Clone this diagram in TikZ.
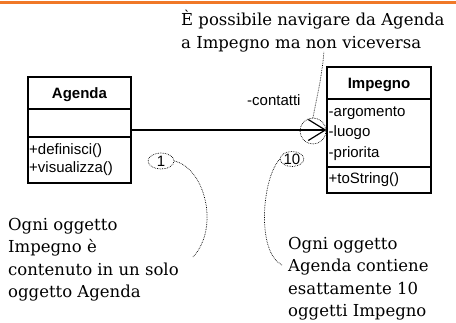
\documentclass[tikz,border=0pt]{standalone}
\usepackage{fontspec}
\newfontfamily\umlfont{Liberation Sans}
\newfontfamily\notefont{DejaVu Serif}
\usetikzlibrary{arrows.meta,shapes.geometric}
\definecolor{topor}{RGB}{240,120,40}
\begin{document}
\begin{tikzpicture}[x=1pt,y=-1pt,
  box/.style={draw, line width=1.2pt, inner sep=0, minimum width=103pt},
  umltext/.style={font=\umlfont\fontsize{15}{18}\selectfont, inner sep=0},
  umlbold/.style={font=\umlfont\bfseries\fontsize{15}{18}\selectfont, inner sep=0},
  note/.style={font=\notefont\fontsize{16.5}{22.5}\selectfont, align=left, inner sep=0, anchor=north west},
  dots/.style={densely dotted, line width=0.7pt},
  tag/.style={draw, densely dotted, ellipse, line width=0.7pt, inner sep=0, font=\umlfont\fontsize{15}{16}\selectfont}]
\useasboundingbox (0,0) rectangle (456,322);
\fill[topor] (0,0.5) rectangle (456,3.5);

% Agenda class
\node[box, minimum height=32pt] (agname) at (79.5,93) {};
\node[box, minimum height=28pt] (agattr) at (79.5,123) {};
\node[box, minimum height=46pt] (agops) at (79.5,160) {};
\node[umlbold, anchor=base] (agtitle) at (79.5,98) {Agenda};
\node[umltext, anchor=base west] (agop1) at (29,154.5) {+definisci()};
\node[umltext, anchor=base west] (agop2) at (29,172.5) {+visualizza()};

% Impegno class
\node[box, minimum width=104pt, minimum height=32pt] (impname) at (379,83) {};
\node[box, minimum width=104pt, minimum height=68pt] (impattr) at (379,133) {};
\node[box, minimum width=104pt, minimum height=26pt] (impops) at (379,180) {};
\node[umlbold, anchor=base] (imptitle) at (379,88) {Impegno};
\node[umltext, anchor=base west] (impa1) at (328.5,116) {-argomento};
\node[umltext, anchor=base west] (impa2) at (328.5,136.5) {-luogo};
\node[umltext, anchor=base west] (impa3) at (328.5,157) {-priorita};
\node[umltext, anchor=base west] (impo1) at (328.5,183) {+toString()};

% association
\draw[line width=1.2pt, -{Straight Barb[length=17pt,width=21pt]}]
  ([yshift=-7pt]agattr.east) -- ([yshift=3pt]impattr.west);
\node[umltext, anchor=base west] (role) at (247,105) {-contatti};

% navigability note
\node[draw, densely dotted, circle, line width=0.7pt, minimum size=26pt, inner sep=0] (navc) at (313,131) {};
\node[note] (topnote) at (181,10) {È possibile navigare da Agenda\\a Impegno ma non viceversa};
\draw[dots] (navc.north) .. controls (316,100) and (322,78) .. ([xshift=11pt]topnote.south);

% multiplicities
\node[tag, minimum width=26pt, minimum height=16pt] (one) at (161,161) {1};
\node[tag, minimum width=22pt, minimum height=15pt] (ten) at (292,159) {10};
\coordinate (c1) at (193,257);
\coordinate (c2) at (282,265);
\draw[dots] (one.east) .. controls (205,168) and (220,228) .. (c1);
\draw[dots] (ten.west) .. controls (262,178) and (256,252) .. (c2);

\node[note] (note1) at (8,218) {Ogni oggetto\\Impegno è\\contenuto in un solo\\oggetto Agenda};
\node[note] (note2) at (288,237) {Ogni oggetto\\Agenda contiene\\esattamente 10\\oggetti Impegno};
\end{tikzpicture}
\end{document}
